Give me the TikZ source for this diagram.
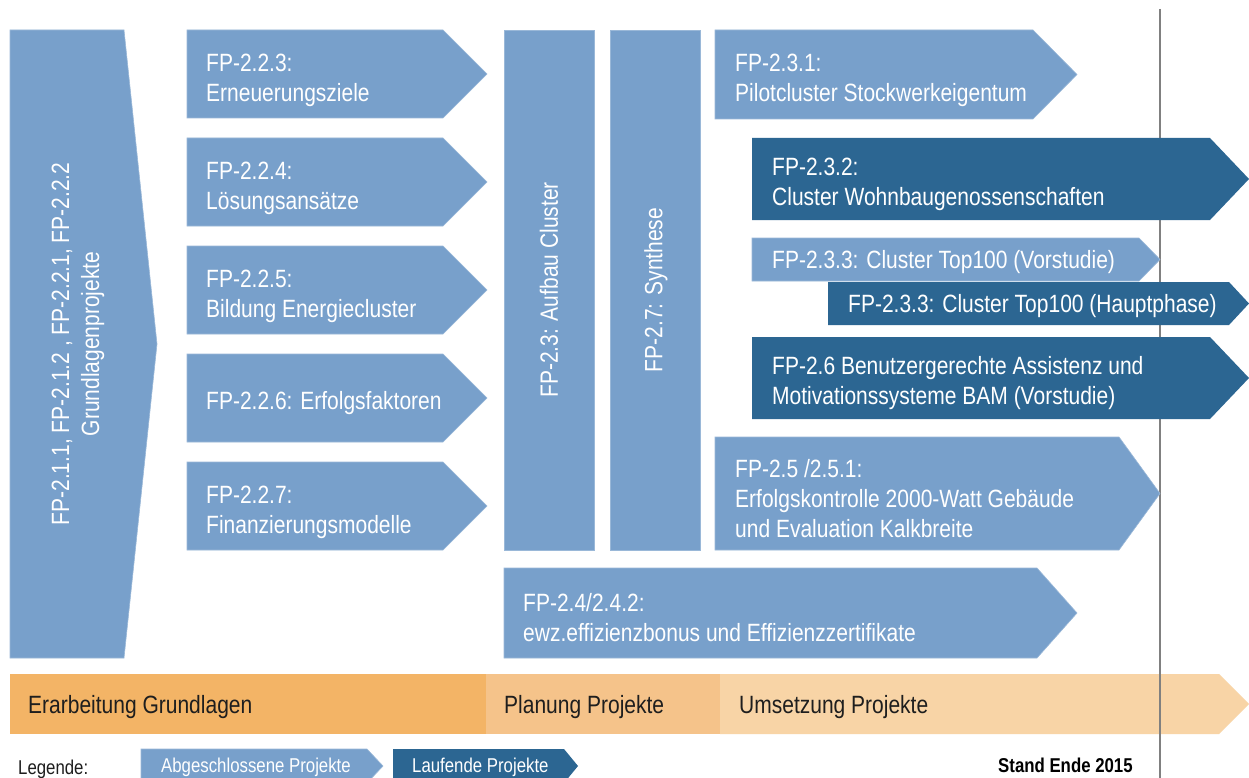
\documentclass[tikz,border=0pt]{standalone}
\usepackage{fontspec}
\setmainfont{Liberation Sans}[FakeStretch=0.84]
\definecolor{lb}{HTML}{78A0CB}
\definecolor{db}{HTML}{2C6692}
\definecolor{oA}{HTML}{F3B466}
\definecolor{oB}{HTML}{F5C38A}
\definecolor{oC}{HTML}{F8D4A6}
\definecolor{ink}{HTML}{1E1E1E}
\newcommand\arrowshape[6]{\path[#1] (#2,#3) -- (#4,#3) -- (#6,{(#3+#5)/2}) -- (#4,#5) -- (#2,#5) -- cycle;}
\tikzset{
  lbox/.style={fill=lb, draw=lb!75!white, line width=0.6pt},
  dbox/.style={fill=db},
  btxt/.style={anchor=west, align=left, text=white, inner sep=0pt, font=\fontsize{25}{30}\selectfont},
  rtxt/.style={rotate=90, align=center, text=white, inner sep=0pt, font=\fontsize{25}{30}\selectfont},
  bartxt/.style={anchor=west, text=ink, inner sep=0pt, font=\fontsize{25}{30}\selectfont},
  legtxt/.style={anchor=west, inner sep=0pt, font=\fontsize{20}{22}\selectfont},
  vline/.style={draw=black!50, line width=1.5pt}
}
\begin{document}
\begin{tikzpicture}[x=1pt,y=-1pt]
\clip (0,0) rectangle (1249,778);
\fill[white] (0,0) rectangle (1249,778);
% bottom phase bar
\fill[oA] (10,674) rectangle (486,734);
\fill[oB] (486,674) rectangle (720,734);
\arrowshape{fill=oC}{720}{674}{1219}{734}{1249}
% vertical time line
\coordinate (vtop) at (1160,9);
\coordinate (vbot) at (1160,778);
\draw[vline] (vtop) -- (vbot);
% left big arrow
\arrowshape{lbox}{10}{30}{124}{658}{157}
% column 2
\arrowshape{lbox}{187}{30}{443}{118}{487}
\arrowshape{lbox}{187}{138}{443}{226}{487}
\arrowshape{lbox}{187}{246}{443}{334}{487}
\arrowshape{lbox}{187}{354}{443}{442}{487}
\arrowshape{lbox}{187}{462}{443}{550}{487}
% columns 3,4
\path[lbox] (504,30) rectangle (594,550);
\path[lbox] (610,30) rectangle (700,550);
% right side
\arrowshape{lbox}{715}{30}{1033}{119}{1077}
\arrowshape{dbox}{752}{138}{1210}{220}{1249}
\arrowshape{lbox}{752}{238}{1139}{281}{1160}
\arrowshape{dbox}{828}{282}{1229}{325}{1249}
\arrowshape{dbox}{752}{337}{1210}{419}{1249}
\arrowshape{lbox}{715}{437}{1119}{550}{1160}
\arrowshape{lbox}{504}{568}{1037}{658}{1077}
% legend shapes
\arrowshape{lbox}{141}{749}{367}{783}{383}
\arrowshape{dbox}{393}{749}{564}{783}{578}
% texts
\node[rtxt] (t21) at (78,344) {FP-2.1.1, FP-2.1.2 , FP-2.2.1, FP-2.2.2\\Grundlagenprojekte};
\node[btxt] (t223) at (206,80) {FP-2.2.3:\\Erneuerungsziele};
\node[btxt] (t224) at (206,188) {FP-2.2.4:\\Lösungsansätze};
\node[btxt] (t225) at (206,296) {FP-2.2.5:\\Bildung Energiecluster};
\node[btxt] (t226) at (206,403) {FP-2.2.6: Erfolgsfaktoren};
\node[btxt] (t227) at (206,512) {FP-2.2.7:\\Finanzierungsmodelle};
\node[rtxt] (t23) at (549,290) {FP-2.3: Aufbau Cluster};
\node[rtxt] (t27) at (656,290) {FP-2.7: Synthese};
\node[btxt] (t231) at (735,80) {FP-2.3.1:\\Pilotcluster Stockwerkeigentum};
\node[btxt] (t232) at (772,184) {FP-2.3.2:\\Cluster Wohnbaugenossenschaften};
\node[btxt] (t233v) at (772,262.5) {FP-2.3.3: Cluster Top100 (Vorstudie)};
\node[btxt] (t233h) at (848,306.5) {FP-2.3.3: Cluster Top100 (Hauptphase)};
\node[btxt] (t26) at (772,383) {FP-2.6 Benutzergerechte Assistenz und\\Motivationssysteme BAM (Vorstudie)};
\node[btxt] (t25) at (735,498.5) {FP-2.5 /2.5.1:\\Erfolgskontrolle 2000-Watt Gebäude\\und Evaluation Kalkbreite};
\node[btxt] (t24) at (523,618) {FP-2.4/2.4.2:\\ewz.effizienzbonus und Effizienzzertifikate};
% bar texts
\node[bartxt] (p1) at (28,707) {Erarbeitung Grundlagen};
\node[bartxt] (p2) at (504,707) {Planung Projekte};
\node[bartxt] (p3) at (739,707) {Umsetzung Projekte};
% legend texts
\node[legtxt, text=ink] (leg) at (18,769) {Legende:};
\node[legtxt, text=white] (legA) at (161,767) {Abgeschlossene Projekte};
\node[legtxt, text=white] (legB) at (412,767) {Laufende Projekte};
\node[legtxt, text=black, font=\fontsize{20}{22}\selectfont\bfseries] (stand) at (998,765) {Stand Ende 2015};
\end{tikzpicture}
\end{document}
